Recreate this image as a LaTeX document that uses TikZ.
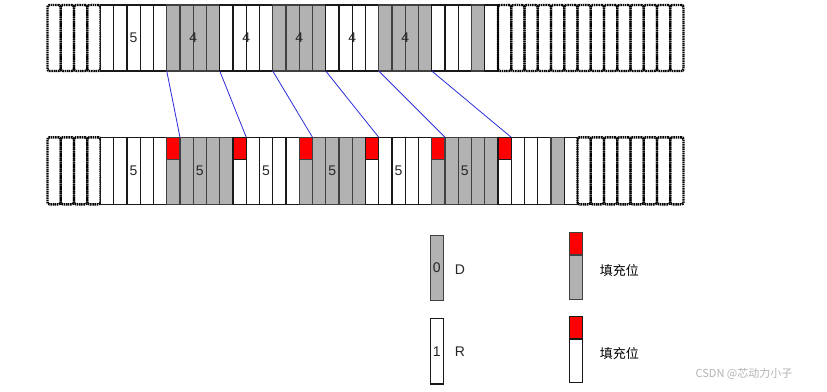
\documentclass[tikz,border=0pt]{standalone}
\usepackage{fontspec}
\setmainfont{Liberation Sans}
\newfontfamily\cjk{Noto Sans CJK SC}
\usetikzlibrary{positioning}
\definecolor{cellgray}{HTML}{B2B2B2}
\definecolor{linkblue}{HTML}{2C2CDC}
\begin{document}
\begin{tikzpicture}[x=1pt,y=-1pt,
 cell/.style={minimum width=13.25pt,inner sep=0pt,outer sep=0pt,line width=1.1pt},
 cell w/.style={cell,draw=black!90,fill=white},
 cell g/.style={cell,draw=black!75,fill=cellgray},
 cell d/.style={cell,draw=black,line width=2.4pt,dash pattern=on 1.5pt off .7pt,rounded corners=2pt},
 pad/.style={path picture={\fill[red] (path picture bounding box.north west) rectangle ([yshift=-22.5pt]path picture bounding box.north east);
  \draw[line width=1.3pt] ([yshift=-22.5pt]path picture bounding box.north west)--([yshift=-22.5pt]path picture bounding box.north east);}},
 cell r/.style={cell g,pad},cell q/.style={cell w,pad},
 num/.style={font=\fontsize{14}{16}\selectfont,text=black!85},
 link/.style={draw=linkblue,line width=.8pt}]
\useasboundingbox (0,0) rectangle (827,391);
% upper row
\foreach \kind [count=\i from 0] in {d,d,d,d,w,w,w,w,w,g,g,g,g,w,w,w,w,g,g,g,g,w,w,w,w,g,g,g,g,w,w,w,g,w,d,d,d,d,d,d,d,d,d,d,d,d,d,d}
 \node[cell \kind,minimum height=66pt] (t\i) at ({54.125+13.25*\i},38) {};
\node[num] (tn) at (t6) {5};
\foreach \c [count=\j] in {10,14,18,22,26} \node[num] (tf\j) at (t\c.east) {4};
% lower row
\foreach \kind [count=\i from 0] in {d,d,d,d,w,w,w,w,w,r,g,g,g,g,q,w,w,w,w,r,g,g,g,g,q,w,w,w,w,r,g,g,g,g,q,w,w,w,g,w,d,d,d,d,d,d,d,d}
 \node[cell \kind,minimum height=67pt] (b\i) at ({54.125+13.25*\i},170.8) {};
\foreach \c [count=\j] in {6,11,16,21,26,31} \node[num] (bf\j) at (b\c) {5};
\foreach \a/\b in {9/10,13/15,17/20,21/25,25/30,29/35} \draw[link] (t\a.south west)--(b\b.north west);
% legend
\node[cell g,num,minimum height=65.5pt] (lg) at (436.7,268) {0};\node[num,right=8pt of lg,yshift=-2pt] (ld) {D};
\node[cell w,num,minimum height=65.5pt] (lw) at (436.7,351.2) {1};\node[num,right=8pt of lw] (lr) {R};
\node[cell r,minimum height=67pt] (lp) at (575.7,266) {};
\node[font=\cjk\fontsize{13}{15}\selectfont,right=14pt of lp,yshift=-4.5pt] (lpt) {填充位};
\node[cell q,minimum height=66pt] (lq) at (575.7,349.5) {};
\node[font=\cjk\fontsize{13}{15}\selectfont,right=14pt of lq,yshift=-4pt] (lqt) {填充位};
\node[font=\cjk\fontsize{11}{13}\selectfont,text=black!30] (wm) at (744,374) {CSDN @芯动力小子};
\end{tikzpicture}
\end{document}
